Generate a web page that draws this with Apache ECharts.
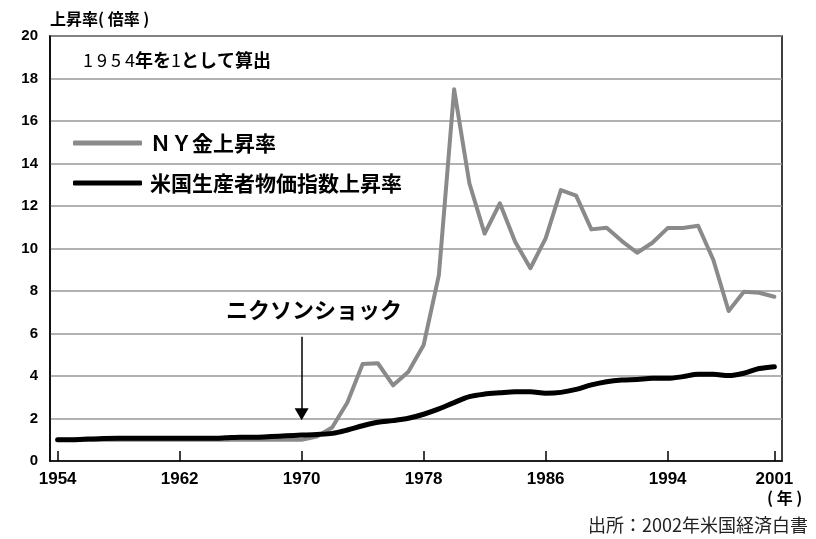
<!DOCTYPE html>
<html><head><meta charset="utf-8">
<script src="https://cdn.jsdelivr.net/npm/echarts@6/dist/echarts.min.js"></script>
<style>html,body{margin:0;padding:0;background:#fff}#c{width:816px;height:539px}</style>
</head><body><div id="c"></div>
<script>
const years = [];
for (let y = 1954; y <= 2001; y++) years.push(String(y));
const goldRate = [1,1,1,1,1,1,1,1,1,1,1,1,1,1,1,1,1,
  1.15,1.58,2.75,4.56,4.6,3.56,4.2,5.46,8.75,17.49,
  13.07,10.7,12.13,10.32,9.07,10.48,12.75,12.49,10.9,10.98,
  10.35,9.8,10.27,10.96,10.96,11.07,9.46,7.06,7.97,7.92,7.73];
const ppiRate = [1.0,1.0,1.03,1.06,1.07,1.07,1.07,1.07,1.07,1.07,1.07,1.09,1.12,1.12,1.15,1.19,
  1.22,1.25,1.30,1.46,1.66,1.82,1.90,2.01,2.20,2.45,2.75,
  3.03,3.15,3.21,3.26,3.26,3.19,3.23,3.37,3.58,3.73,
  3.81,3.84,3.89,3.89,3.97,4.08,4.08,4.02,4.13,4.35,4.44];
const tickYears = ['1954','1962','1970','1978','1986','1994','2001'];
const seriesNames = ['ＮＹ金上昇率','米国生産者物価指数上昇率'];
const nixonYear = '1970';
const nixonArrow = [5.85, 2.2];

const chart = echarts.init(document.getElementById('c'), null, {renderer:'canvas'});
const showTick = (i, v) => tickYears.indexOf(years[i]) >= 0;
const jp = '"Noto Sans CJK JP", sans-serif';
chart.setOption({
  animation: false,
  grid: {left: 50, right: 34, top: 36, bottom: 78, show: true, borderColor: '#000', borderWidth: 1.5},
  legend: {
    orient: 'vertical', left: 73, top: 131, padding: 0, itemWidth: 69, itemHeight: 5, itemGap: 16,
    icon: 'roundRect',
    textStyle: {fontFamily: jp, fontWeight: 'bold', fontSize: 21, color: '#000', lineHeight: 24, padding: [0,0,0,3]},
    data: seriesNames
  },
  xAxis: {
    type: 'category', data: years, boundaryGap: true,
    axisLine: {lineStyle: {color: '#000', width: 1.5}},
    axisTick: {show: true, inside: true, length: 10, alignWithLabel: true, interval: showTick, lineStyle: {color: '#000', width: 1.5}},
    axisLabel: {interval: showTick, margin: 10, color: '#000', fontFamily: '"Liberation Sans", Arial, sans-serif', fontWeight: 'bold', fontSize: 17},
    splitLine: {show: false}
  },
  yAxis: {
    type: 'value', min: 0, max: 20, interval: 2,
    axisLine: {show: true, lineStyle: {color: '#000', width: 1.5}},
    axisTick: {show: false},
    axisLabel: {margin: 12, color: '#000', fontFamily: '"Liberation Sans", Arial, sans-serif', fontWeight: 'bold', fontSize: 15},
    splitLine: {lineStyle: {color: '#999', width: 1.5}}
  },
  series: [
    {name: seriesNames[0], type: 'line', data: goldRate, symbol: 'none',
     lineStyle: {color: '#8a8a8a', width: 4, cap: 'round', join: 'round'}, itemStyle: {color: '#8a8a8a'}, z: 2},
    {name: seriesNames[1], type: 'line', data: ppiRate, symbol: 'none', smooth: 0.3,
     lineStyle: {color: '#000', width: 5, cap: 'round', join: 'round'}, itemStyle: {color: '#000'}, z: 3,
     markLine: {silent: true, symbol: ['none', 'triangle'], symbolSize: [14, 12],
       label: {show: false},
       lineStyle: {color: '#000', width: 1.5, type: 'solid'},
       data: [[{coord: [nixonYear, nixonArrow[0]]}, {coord: [nixonYear, nixonArrow[1]]}]]}
    }
  ],
  graphic: [
    {type: 'text', left: 50, top: 11, style: {text: '上昇率( 倍率 )', font: 'bold 16px ' + jp, fill: '#000'}},
    {type: 'text', left: 83, top: 51, style: {
      text: '{d|1 9 5 4}{k|年を}{d|1}{k|として算出}',
      rich: {d: {font: '18px ' + jp, fill: '#000'}, k: {font: 'bold 18px ' + jp, fill: '#000'}}}},
    {type: 'text', left: 226, top: 299, style: {text: 'ニクソンショック', font: 'bold 22px ' + jp, fill: '#000'}},
    {type: 'text', left: 767, top: 490, style: {text: '( 年 )', font: 'bold 16px ' + jp, fill: '#000'}},
    {type: 'text', right: 8, top: 516, style: {text: '出所：2002年米国経済白書', font: '18px ' + jp, fill: '#222'}}
  ]
});
</script></body></html>
